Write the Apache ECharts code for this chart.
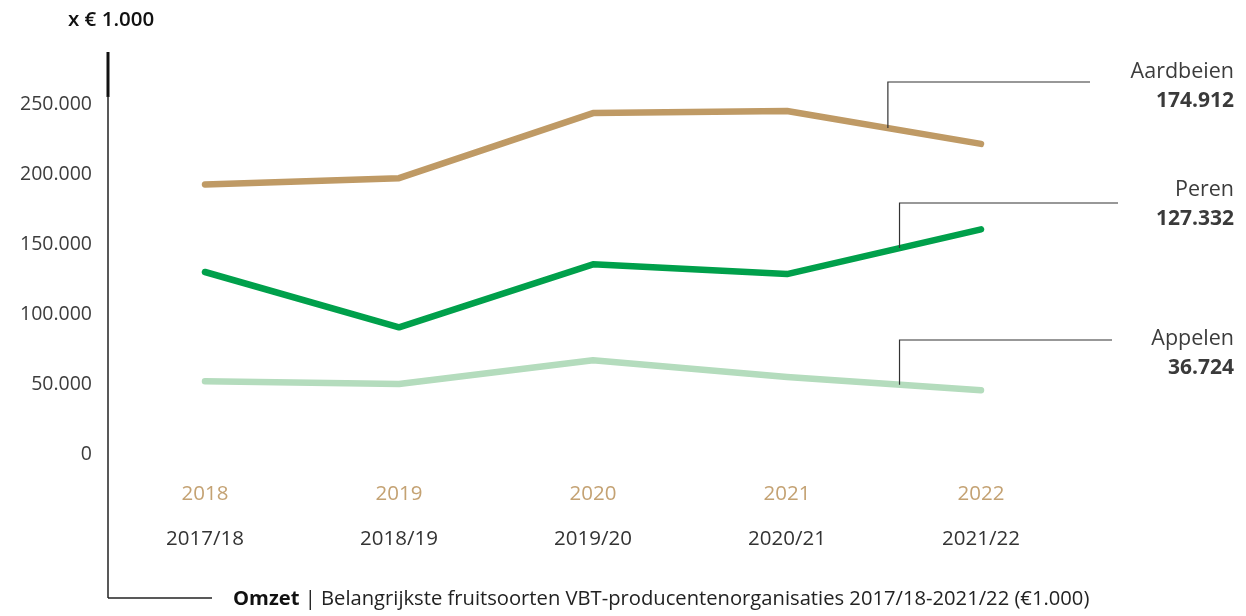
<!DOCTYPE html>
<html>
<head>
<meta charset="utf-8">
<script src="https://cdn.jsdelivr.net/npm/echarts@6/dist/echarts.min.js"></script>
<style>
  html, body { margin: 0; padding: 0; background: #fff; }
  #omzet { width: 1246px; height: 616px; }
</style>
</head>
<body>
<div id="omzet"></div>
<script>
// data
var jaren = ['2018', '2019', '2020', '2021', '2022'];
var seizoenen = ['2017/18', '2018/19', '2019/20', '2020/21', '2021/22'];
var aardbeien = [192500, 197000, 243500, 245000, 221500];
var peren = [130000, 90500, 135500, 128500, 160500];
var appelen = [52000, 50000, 67000, 55000, 45500];
var namen = ['Aardbeien', 'Peren', 'Appelen'];
var waarden = ['174.912', '127.332', '36.724'];

var FONT = '"Open Sans", "Noto Sans", sans-serif';
var kleuren = ['#bf9a65', '#00a04b', '#b4dcbd'];

function puntjes (v) {
  return String(v).replace(/\B(?=(\d{3})+(?!\d))/g, '.');
}

var myChart = echarts.init(document.getElementById('omzet'));

var series = [aardbeien, peren, appelen].map(function (d, i) {
  return {
    name: namen[i],
    type: 'line',
    data: d,
    symbol: 'none',
    silent: true,
    lineStyle: { color: kleuren[i], width: 6.5, cap: 'round', join: 'round' }
  };
});

var option = {
  animation: false,
  textStyle: { fontFamily: FONT },
  grid: { left: 205, right: 265, top: 104, bottom: 162 },
  xAxis: {
    type: 'category',
    data: jaren,
    boundaryGap: false,
    axisLine: { show: false },
    axisTick: { show: false },
    splitLine: { show: false },
    axisLabel: {
      margin: 18,
      formatter: function (v, i) {
        return '{a|' + v + '}\n{b|' + seizoenen[i] + '}';
      },
      rich: {
        a: { color: '#c4a273', fontSize: 20.5, fontFamily: FONT, lineHeight: 45 },
        b: { color: '#333', fontSize: 20.5, fontFamily: FONT, lineHeight: 45 }
      }
    }
  },
  yAxis: {
    type: 'value',
    min: 0,
    max: 250000,
    interval: 50000,
    axisLine: { show: false },
    axisTick: { show: false },
    splitLine: { show: false },
    axisLabel: {
      margin: 113,
      color: '#3c3c3c',
      fontSize: 19.5,
      fontFamily: FONT,
      formatter: puntjes
    }
  },
  series: series
};
myChart.setOption(option);

// leader lines + labels on the right
var fracs = [0.52, 0.58, 0.58];
var labelTop = [72, 190, 339];
var lijnEind = [1090, 1118, 1112];
var lijnTop = [82, 203, 340];
var graphic = [
  { type: 'text', left: 68, top: 10, style: { text: 'x € 1.000', fill: '#111', font: '600 20.5px ' + FONT } },
  { type: 'line', shape: { x1: 108, y1: 52, x2: 108, y2: 97 }, style: { stroke: '#111', lineWidth: 3 } },
  { type: 'line', shape: { x1: 108, y1: 96, x2: 108, y2: 598 }, style: { stroke: '#222', lineWidth: 1.5 } },
  { type: 'line', shape: { x1: 108, y1: 598, x2: 212, y2: 598 }, style: { stroke: '#222', lineWidth: 1.5 } },
  {
    type: 'text', left: 233, top: 589,
    style: {
      text: '{b|Omzet} | Belangrijkste fruitsoorten VBT-producentenorganisaties 2017/18-2021/22 (€1.000)',
      font: '20.2px ' + FONT, fill: '#222',
      rich: { b: { fontWeight: 'bold', fontSize: 20.2, fontFamily: FONT, fill: '#111' } }
    }
  }
];
[aardbeien, peren, appelen].forEach(function (d, i) {
  var p3 = myChart.convertToPixel({ gridIndex: 0 }, [3, d[3]]);
  var p4 = myChart.convertToPixel({ gridIndex: 0 }, [4, d[4]]);
  var x = p3[0] + fracs[i] * (p4[0] - p3[0]);
  var y = p3[1] + fracs[i] * (p4[1] - p3[1]);
  graphic.push({
    type: 'polyline', z: 10,
    shape: { points: [[x, y], [x, lijnTop[i]], [lijnEind[i], lijnTop[i]]] },
    style: { stroke: '#333', lineWidth: 1.2, fill: null }
  });
  graphic.push({
    type: 'text', x: 1234, y: labelTop[i],
    style: {
      text: namen[i], align: 'right', verticalAlign: 'middle',
      font: '21.5px ' + FONT, fill: '#3c3c3c'
    }
  });
  graphic.push({
    type: 'text', x: 1234, y: labelTop[i] + 29,
    style: {
      text: waarden[i], align: 'right', verticalAlign: 'middle',
      font: 'bold 21px ' + FONT, fill: '#3a3a3a'
    }
  });
});
myChart.setOption({ graphic: graphic });
</script>
</body>
</html>
